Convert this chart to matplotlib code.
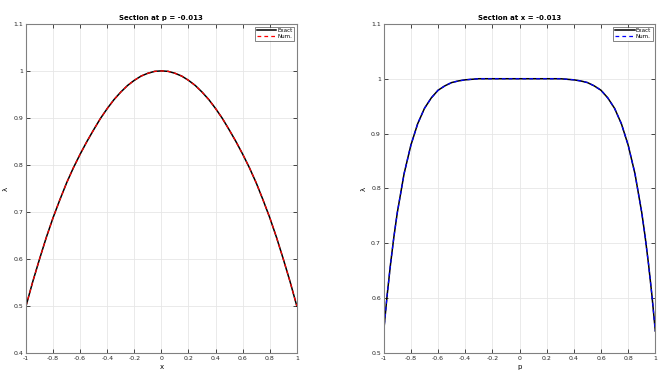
import matplotlib.pyplot as plt

# section at p = -0.013 : lambda vs x
x_vals = [-1.0, -0.95, -0.9, -0.85, -0.8, -0.75, -0.7, -0.65, -0.6, -0.55, -0.5,
          -0.45, -0.4, -0.35, -0.3, -0.25, -0.2, -0.15, -0.1, -0.05, 0.0,
          0.05, 0.1, 0.15, 0.2, 0.25, 0.3, 0.35, 0.4, 0.45, 0.5,
          0.55, 0.6, 0.65, 0.7, 0.75, 0.8, 0.85, 0.9, 0.95, 1.0]
lam_x_exact = [0.500, 0.552, 0.600, 0.646, 0.688, 0.726, 0.762, 0.794, 0.823, 0.850, 0.875,
               0.899, 0.920, 0.939, 0.955, 0.969, 0.980, 0.989, 0.995, 0.999, 1.000,
               0.999, 0.995, 0.989, 0.980, 0.969, 0.955, 0.939, 0.920, 0.899, 0.875,
               0.850, 0.823, 0.794, 0.762, 0.726, 0.688, 0.646, 0.600, 0.552, 0.500]
lam_x_num = list(lam_x_exact)

# section at x = -0.013 : lambda vs p
p_vals = [-1.0, -0.975, -0.95, -0.925, -0.9, -0.85, -0.8, -0.75, -0.7, -0.65, -0.6,
          -0.55, -0.5, -0.45, -0.4, -0.35, -0.3, -0.25, -0.2, -0.1, 0.0,
          0.1, 0.2, 0.25, 0.3, 0.35, 0.4, 0.45, 0.5, 0.55, 0.6,
          0.65, 0.7, 0.75, 0.8, 0.85, 0.9, 0.925, 0.95, 0.975, 1.0]
lam_p_exact = [0.540, 0.605, 0.662, 0.712, 0.756, 0.827, 0.879, 0.918, 0.946, 0.965, 0.979,
               0.987, 0.993, 0.996, 0.998, 0.999, 1.000, 1.000, 1.000, 1.000, 1.000,
               1.000, 1.000, 1.000, 1.000, 0.999, 0.998, 0.996, 0.993, 0.987, 0.979,
               0.965, 0.946, 0.918, 0.879, 0.827, 0.756, 0.712, 0.662, 0.605, 0.540]
lam_p_num = list(lam_p_exact)

xticks = [-1, -0.8, -0.6, -0.4, -0.2, 0, 0.2, 0.4, 0.6, 0.8, 1]
xtick_labels = ['-1', '-0.8', '-0.6', '-0.4', '-0.2', '0', '0.2', '0.4', '0.6', '0.8', '1']


def style_axes(ax, yticks, ylim):
    ax.set_xlim(-1, 1)
    ax.set_ylim(*ylim)
    ax.set_xticks(xticks)
    ax.set_xticklabels(xtick_labels)
    ax.set_yticks(yticks)
    ax.set_yticklabels(['%g' % v for v in yticks])
    ax.grid(True, color='#e6e6e6', lw=0.6)
    ax.set_axisbelow(True)
    ax.tick_params(direction='in', length=3, width=0.6, labelsize=4.5,
                   colors='#262626', top=True, right=True, pad=2)
    for s in ax.spines.values():
        s.set_color('#808080')
        s.set_linewidth(0.8)


fig = plt.figure(figsize=(6.67, 3.85), dpi=100)

ax1 = fig.add_axes([0.039, 0.083, 0.406, 0.855])
ax1.plot(x_vals, lam_x_exact, color='black', lw=1.1, label='Exact')
ax1.plot(x_vals, lam_x_num, color='red', lw=0.9, ls=(0, (3, 2.5)), label='Num.')
style_axes(ax1, [0.4, 0.5, 0.6, 0.7, 0.8, 0.9, 1, 1.1], (0.4, 1.1))
ax1.set_title('Section at p = -0.013', fontsize=5, fontweight='bold', pad=3)
ax1.set_xlabel('x', fontsize=5, labelpad=2)
ax1.set_ylabel('λ', fontsize=5, labelpad=3)
leg = ax1.legend(loc='upper right', fontsize=4, frameon=True, fancybox=False,
                 edgecolor='#262626', handlelength=3.5, borderpad=0.3,
                 labelspacing=0.2, handletextpad=0.2)
leg.get_frame().set_linewidth(0.5)

ax2 = fig.add_axes([0.5753, 0.083, 0.4072, 0.855])
ax2.plot(p_vals, lam_p_exact, color='black', lw=1.1, label='Exact')
ax2.plot(p_vals, lam_p_num, color='blue', lw=0.9, ls=(0, (3, 2.5)), label='Num.')
style_axes(ax2, [0.5, 0.6, 0.7, 0.8, 0.9, 1, 1.1], (0.5, 1.1))
ax2.set_title('Section at x = -0.013', fontsize=5, fontweight='bold', pad=3)
ax2.set_xlabel('p', fontsize=5, labelpad=2)
ax2.set_ylabel('λ', fontsize=5, labelpad=3)
leg = ax2.legend(loc='upper right', fontsize=4, frameon=True, fancybox=False,
                 edgecolor='#262626', handlelength=3.5, borderpad=0.3,
                 labelspacing=0.2, handletextpad=0.2)
leg.get_frame().set_linewidth(0.5)

plt.savefig('out.png', dpi=100)
